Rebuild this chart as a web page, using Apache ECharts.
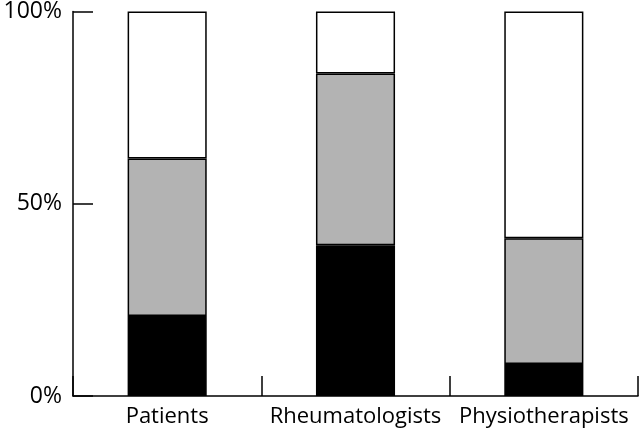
<!DOCTYPE html>
<html>
<head>
<meta charset="utf-8">
<script src="https://cdn.jsdelivr.net/npm/echarts@6/dist/echarts.min.js"></script>
<style>html,body{margin:0;padding:0;background:#fff}#c{width:640px;height:432px}</style>
</head>
<body>
<div id="c"></div>
<script>
var categories = ['Patients', 'Rheumatologists', 'Physiotherapists'];
var blackSeg = [20.8, 39.2, 8.3];
var greySeg = [41.0, 44.7, 32.7];
var whiteSeg = [38.2, 16.1, 59.0];
var yTicks = [0, 50, 100];

var chart = echarts.init(document.getElementById('c'));
var font = 'Open Sans';
function seg(name, data, color) {
  return {
    name: name, type: 'bar', stack: 'all', data: data, barWidth: '42%',
    itemStyle: { color: color, borderColor: '#000', borderWidth: 1.5 },
    silent: true
  };
}
chart.setOption({
  animation: false,
  grid: { left: 73, right: 2, top: 11, bottom: 36 },
  xAxis: {
    type: 'category', data: categories,
    axisLine: { lineStyle: { color: '#000', width: 1.5 } },
    axisTick: { show: true, inside: true, length: 20, lineStyle: { color: '#000', width: 1.5 } },
    axisLabel: { color: '#000', fontSize: 22, fontFamily: font, margin: 10, interval: 0 }
  },
  yAxis: {
    type: 'value', min: 0, max: 100, interval: 50,
    axisLine: { show: true, lineStyle: { color: '#000', width: 1.5 } },
    axisTick: { show: true, inside: true, length: 20, lineStyle: { color: '#000', width: 1.5 } },
    splitLine: { show: false },
    axisLabel: { color: '#000', fontSize: 23, fontFamily: font, margin: 11,
      formatter: function (v) { return yTicks.indexOf(v) >= 0 ? v + '%' : ''; } }
  },
  series: [
    seg('black', blackSeg, '#000'),
    seg('grey', greySeg, '#b3b3b3'),
    seg('white', whiteSeg, '#fff')
  ]
});
</script>
</body>
</html>
